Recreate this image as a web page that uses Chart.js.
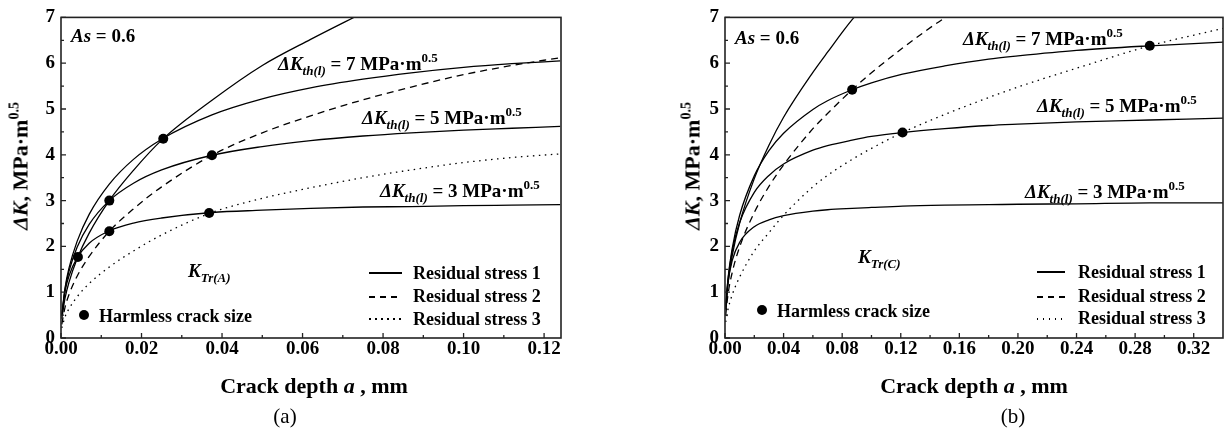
<!DOCTYPE html>
<html><head><meta charset="utf-8">
<script src="https://cdn.jsdelivr.net/npm/chart.js@4.4.1/dist/chart.umd.min.js"></script>
<style>
html,body{margin:0;padding:0;background:#fff;}
#wrap{position:relative;width:1228px;height:435px;overflow:hidden;background:#fff;}
canvas{position:absolute;top:0;}
.t{position:absolute;font-family:"Liberation Serif","Times New Roman",serif;font-weight:bold;color:#000;white-space:nowrap;font-size:19px;line-height:19px;}
.it{font-style:italic;}
.sb{font-size:13px;position:relative;top:5px;font-style:italic;}
.sp{font-size:13px;position:relative;top:-8px;}
.lg{font-size:18px;line-height:18px;}
.ln{position:absolute;height:1.5px;}
.dot{position:absolute;width:10px;height:10px;border-radius:50%;background:#000;}
.xt{font-size:22px;line-height:22px;text-align:center;width:400px;}
.yt{font-size:22px;line-height:22px;text-align:center;width:200px;transform:translate(-50%,-50%) rotate(-90deg);}
.yt .sp{font-size:14px;top:-9px;}
.cap{font-weight:normal;font-size:21px;line-height:21px;text-align:center;width:60px;}
</style></head>
<body><div id="wrap">
<canvas id="ca" width="614" height="435" style="left:0px"></canvas>
<canvas id="cb" width="614" height="435" style="left:614px"></canvas>

<!-- chart (a) texts -->
<div class="t" style="left:71px;top:26px"><span class="it">As</span> = 0.6</div>
<div class="t" style="left:278px;top:54px"><span class="it">ΔK</span><span class="sb">th(l)</span> = 7 MPa·m<span class="sp">0.5</span></div>
<div class="t" style="left:362px;top:108px"><span class="it">ΔK</span><span class="sb">th(l)</span> = 5 MPa·m<span class="sp">0.5</span></div>
<div class="t" style="left:380px;top:181px"><span class="it">ΔK</span><span class="sb">th(l)</span> = 3 MPa·m<span class="sp">0.5</span></div>
<div class="t" style="left:188px;top:261px"><span class="it">K</span><span class="sb">Tr(A)</span></div>
<div class="dot" style="left:79px;top:310px"></div>
<div class="t lg" style="left:99px;top:307px">Harmless crack size</div>
<div class="ln" style="left:369px;top:272px;width:33px;background:#000"></div>
<div class="ln" style="left:369px;top:296px;width:33px;background:repeating-linear-gradient(to right,#000 0 6px,transparent 6px 11px)"></div>
<div class="ln" style="left:369px;top:318px;width:33px;background:repeating-linear-gradient(to right,#000 0 1.5px,transparent 1.5px 6px)"></div>
<div class="t lg" style="left:413px;top:264px">Residual stress 1</div>
<div class="t lg" style="left:413px;top:287px">Residual stress 2</div>
<div class="t lg" style="left:413px;top:310px">Residual stress 3</div>
<div class="t xt" style="left:114px;top:375px">Crack depth <span class="it">a</span> , mm</div>
<div class="t yt" style="left:22px;top:166px"><span class="it">ΔK</span>, MPa·m<span class="sp">0.5</span></div>
<div class="t cap" style="left:255px;top:406px">(a)</div>

<!-- chart (b) texts -->
<div class="t" style="left:735px;top:28px"><span class="it">As</span> = 0.6</div>
<div class="t" style="left:963px;top:29px"><span class="it">ΔK</span><span class="sb">th(l)</span> = 7 MPa·m<span class="sp">0.5</span></div>
<div class="t" style="left:1037px;top:96px"><span class="it">ΔK</span><span class="sb">th(l)</span> = 5 MPa·m<span class="sp">0.5</span></div>
<div class="t" style="left:1025px;top:182px"><span class="it">ΔK</span><span class="sb">th(l)</span> = 3 MPa·m<span class="sp">0.5</span></div>
<div class="t" style="left:858px;top:247px"><span class="it">K</span><span class="sb">Tr(C)</span></div>
<div class="dot" style="left:757px;top:305px"></div>
<div class="t lg" style="left:777px;top:302px">Harmless crack size</div>
<div class="ln" style="left:1037px;top:271px;width:28px;background:#000"></div>
<div class="ln" style="left:1037px;top:296px;width:28px;background:repeating-linear-gradient(to right,#000 0 6px,transparent 6px 11px)"></div>
<div class="ln" style="left:1037px;top:318px;width:28px;background:repeating-linear-gradient(to right,#000 0 1.5px,transparent 1.5px 6px)"></div>
<div class="t lg" style="left:1078px;top:263px">Residual stress 1</div>
<div class="t lg" style="left:1078px;top:287px">Residual stress 2</div>
<div class="t lg" style="left:1078px;top:309px">Residual stress 3</div>
<div class="t xt" style="left:774px;top:375px">Crack depth <span class="it">a</span> , mm</div>
<div class="t yt" style="left:694px;top:166px"><span class="it">ΔK</span>, MPa·m<span class="sp">0.5</span></div>
<div class="t cap" style="left:983px;top:406px">(b)</div>
</div>

<script>
// ---------- data: chart (a), K_Tr(A) ----------
const depthA = [0.0002, 0.001, 0.002, 0.004, 0.007, 0.012, 0.018, 0.025, 0.0375, 0.05, 0.062, 0.075, 0.087, 0.1, 0.112, 0.124];
const rs1A  = [0.42, 0.87, 1.22, 1.73, 2.29, 3.00, 3.66, 4.32, 5.19, 5.95, 6.52, 7.10, null, null, null, null];
const rs2A  = [0.30, 0.67, 0.95, 1.35, 1.78, 2.33, 2.82, 3.30, 3.99, 4.48, 4.85, 5.20, 5.48, 5.75, 5.95, 6.12];
const rs3A  = [0.22, 0.46, 0.64, 0.90, 1.19, 1.55, 1.90, 2.25, 2.74, 3.05, 3.28, 3.50, 3.67, 3.83, 3.94, 4.02];
const th7A  = [0.49, 1.09, 1.53, 2.11, 2.70, 3.36, 3.90, 4.34, 4.87, 5.22, 5.46, 5.65, 5.79, 5.91, 5.99, 6.05];
const th5A  = [0.48, 1.06, 1.46, 1.98, 2.48, 3.00, 3.38, 3.67, 3.99, 4.18, 4.31, 4.41, 4.48, 4.54, 4.58, 4.62];
const th3A  = [0.48, 1.02, 1.36, 1.75, 2.07, 2.34, 2.51, 2.62, 2.74, 2.79, 2.83, 2.86, 2.87, 2.89, 2.90, 2.91];
const harmAX = [0.0042, 0.012, 0.0254, 0.012, 0.0375, 0.0368];
const harmAY = [1.77, 3.00, 4.35, 2.33, 3.99, 2.73];
const xTicksA = [0, 0.02, 0.04, 0.06, 0.08, 0.10, 0.12];

// ---------- data: chart (b), K_Tr(C) ----------
const depthB = [0.0005, 0.002, 0.005, 0.01, 0.02, 0.03, 0.04, 0.06, 0.07, 0.0868, 0.1, 0.1212, 0.15, 0.18, 0.2, 0.24, 0.29, 0.34];
const rs1B  = [0.62, 1.18, 1.81, 2.51, 3.48, 4.21, 4.82, 5.80, 6.24, 6.95, 7.42, null, null, null, null, null, null, null];
const rs2B  = [0.50, 0.94, 1.44, 1.99, 2.74, 3.31, 3.78, 4.57, 4.90, 5.42, 5.79, 6.33, 6.99, 7.55, null, null, null, null];
const rs3B  = [0.35, 0.62, 0.95, 1.33, 1.90, 2.30, 2.68, 3.30, 3.55, 3.90, 4.14, 4.485, 4.88, 5.25, 5.48, 5.89, 6.38, 6.76];
const th7B  = [0.65, 1.28, 1.97, 2.68, 3.54, 4.09, 4.47, 4.99, 5.18, 5.42, 5.57, 5.76, 5.94, 6.09, 6.16, 6.28, 6.38, 6.46];
const th5B  = [0.65, 1.26, 1.91, 2.52, 3.18, 3.55, 3.80, 4.10, 4.20, 4.32, 4.40, 4.485, 4.57, 4.64, 4.67, 4.72, 4.76, 4.80];
const th3B  = [0.64, 1.20, 1.70, 2.09, 2.43, 2.58, 2.67, 2.77, 2.80, 2.83, 2.85, 2.88, 2.90, 2.91, 2.92, 2.93, 2.95, 2.95];
const harmBX = [0.0868, 0.1212, 0.29];
const harmBY = [5.42, 4.485, 6.38];
const xTicksB = [0, 0.04, 0.08, 0.12, 0.16, 0.20, 0.24, 0.28, 0.32];

const yTicks = [0, 1, 2, 3, 4, 5, 6, 7];

// ---------- rendering ----------
Chart.defaults.font.family = '"Liberation Serif", "Times New Roman", serif';
Chart.defaults.color = '#000';

const SOLID = [], DASH = [7, 5], DOT = [1.5, 4.5];

function pts(xs, ys) {
  return xs.map((x, i) => ({x: x, y: ys[i]})).filter(p => p.y !== null);
}

const frameTicks = {
  id: 'frameTicks',
  afterDatasetsDraw(chart) {
    const {ctx, chartArea: a, scales: {x, y}} = chart;
    ctx.save();
    ctx.strokeStyle = '#222';
    ctx.lineWidth = 1.3;
    ctx.beginPath();
    const xt = x.ticks.map(t => t.value);
    for (let i = 0; i < xt.length; i++) {
      const p = x.getPixelForValue(xt[i]);
      ctx.moveTo(p, a.bottom); ctx.lineTo(p, a.bottom - 5);
      const m = i + 1 < xt.length ? (xt[i] + xt[i + 1]) / 2 : xt[i] + (xt[1] - xt[0]) / 2;
      if (m < x.max - 1e-9) {
        const pm = x.getPixelForValue(m);
        ctx.moveTo(pm, a.bottom); ctx.lineTo(pm, a.bottom - 3);
      }
    }
    const yt = y.ticks.map(t => t.value);
    for (let i = 0; i < yt.length; i++) {
      const p = y.getPixelForValue(yt[i]);
      ctx.moveTo(a.left, p); ctx.lineTo(a.left + 5, p);
      if (i + 1 < yt.length) {
        const pm = y.getPixelForValue((yt[i] + yt[i + 1]) / 2);
        ctx.moveTo(a.left, pm); ctx.lineTo(a.left + 3, pm);
      }
    }
    ctx.stroke();
    ctx.lineWidth = 1.6;
    ctx.strokeRect(a.left, a.top, a.right - a.left, a.bottom - a.top);
    ctx.restore();
  }
};

function makeChart(id, cfg) {
  const line = (ys, dash) => ({
    data: pts(cfg.xs, ys), showLine: true, borderColor: '#000', borderWidth: 1.3,
    borderDash: dash, pointRadius: 0, cubicInterpolationMode: 'monotone', fill: false, order: 1
  });
  const datasets = [
    {data: pts(cfg.hx, cfg.hy), showLine: false, pointRadius: 5, pointBackgroundColor: '#000',
     pointBorderWidth: 0, order: 0},
    line(cfg.th7, SOLID), line(cfg.th5, SOLID), line(cfg.th3, SOLID),
    line(cfg.rs1, SOLID), line(cfg.rs2, DASH), line(cfg.rs3, DOT)
  ];
  const tickFont = {size: 19, weight: 'bold', lineHeight: 1.2};
  return new Chart(document.getElementById(id), {
    type: 'scatter',
    data: {datasets: datasets},
    options: {
      responsive: false, animation: false, events: [],
      layout: {padding: {top: cfg.top, right: cfg.right, left: 0, bottom: 0}},
      plugins: {legend: {display: false}, tooltip: {enabled: false}},
      scales: {
        x: {
          type: 'linear', min: 0, max: cfg.xMax,
          afterBuildTicks: s => { s.ticks = cfg.xTicks.map(v => ({value: v})); },
          afterFit: s => { s.height = 97; },
          grid: {display: false, drawTicks: false},
          border: {display: false},
          ticks: {font: tickFont, padding: 0, autoSkip: false, maxRotation: 0,
                  callback: v => Number(v).toFixed(2)}
        },
        y: {
          type: 'linear', min: 0, max: 7,
          afterBuildTicks: s => { s.ticks = yTicks.map(v => ({value: v})); },
          afterFit: s => { s.width = cfg.yw; },
          grid: {display: false, drawTicks: false},
          border: {display: false},
          ticks: {font: tickFont, padding: 6, autoSkip: false, callback: v => String(v)}
        }
      }
    },
    plugins: [frameTicks]
  });
}

makeChart('ca', {xs: depthA, rs1: rs1A, rs2: rs2A, rs3: rs3A, th7: th7A, th5: th5A, th3: th3A,
  hx: harmAX, hy: harmAY, xTicks: xTicksA, xMax: 0.1242, top: 15, right: 53, yw: 61});
makeChart('cb', {xs: depthB, rs1: rs1B, rs2: rs2B, rs3: rs3B, th7: th7B, th5: th5B, th3: th3B,
  hx: harmBX, hy: harmBY, xTicks: xTicksB, xMax: 0.34, top: 16, right: 3, yw: 111});
</script>
</body></html>
